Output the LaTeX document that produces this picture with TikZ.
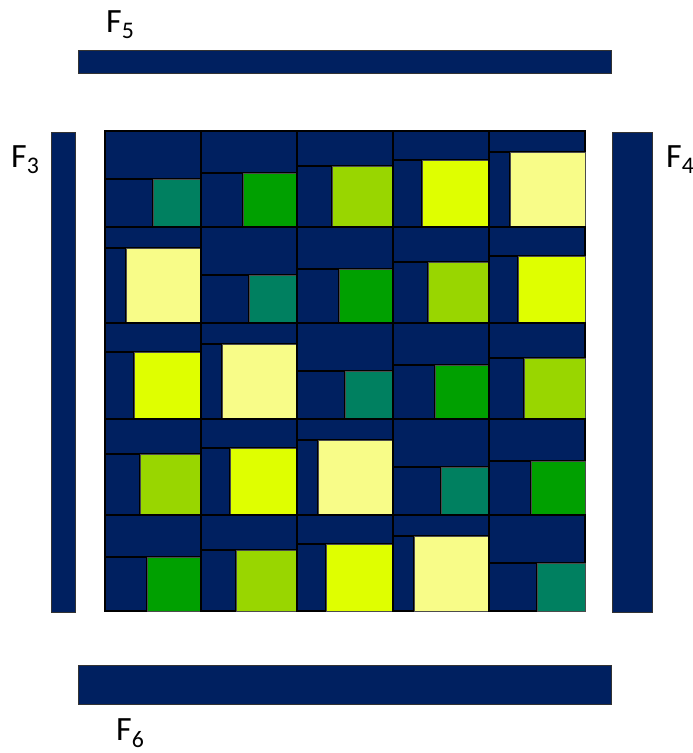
\documentclass[tikz,border=0pt]{standalone}
\usepackage{fontspec}
\setmainfont{Carlito}
\usepackage{xcolor}

\definecolor{navy}{RGB}{0,32,96}
\definecolor{tile0}{RGB}{0,128,96}
\definecolor{tile1}{RGB}{0,160,0}
\definecolor{tile2}{RGB}{153,214,0}
\definecolor{tile3}{RGB}{223,255,0}
\definecolor{tile4}{RGB}{248,252,136}

\begin{document}
\begin{tikzpicture}[x=1pt, y=-1pt,
  bar/.style={fill=navy, draw=black!80, line width=1pt},
  block/.style={fill=navy, draw=black, line width=1.3pt},
  tile/.style={draw=black!70, line width=0.6pt},
  flabel/.style={anchor=base west, inner sep=0pt,
                 font=\fontsize{34}{40}\selectfont},
  ]
  \clip (0,0) rectangle (693,753);

  % outer bars
  \draw[bar] (78,50) rectangle (611,73);
  \draw[bar] (78,665) rectangle (611,704);
  \draw[bar] (51,132) rectangle (75,612);
  \draw[bar] (612,132) rectangle (652,612);

  \node[flabel] (f5) at (106,32) {F\textsubscript{5}};
  \node[flabel] (f6) at (116,740) {F\textsubscript{6}};
  \node[flabel] (f3) at (11,167) {F\textsubscript{3}};
  \node[flabel] (f4) at (666,167) {F\textsubscript{4}};

  % 5x5 grid of cells
  \foreach \r in {0,...,4} {
    \foreach \c in {0,...,4} {
      \pgfmathtruncatemacro{\k}{mod(\c-\r+5,5)}
      \pgfmathsetmacro{\s}{{48,54,61,67,75}[\k]}
      \pgfmathsetmacro{\xa}{105+96*\c}
      \pgfmathsetmacro{\ya}{131+96*\r}
      \draw[block] (\xa,\ya) rectangle ++(96,96-\s);
      \draw[block] (\xa,\ya+96-\s) rectangle ++(96-\s,\s);
      \draw[tile, fill=tile\k] (\xa+96-\s,\ya+96-\s) rectangle ++(\s,\s);
    }
  }
\end{tikzpicture}
\end{document}
